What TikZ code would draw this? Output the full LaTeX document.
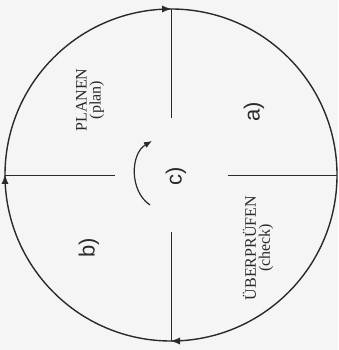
\documentclass[tikz,border=0pt]{standalone}
\usepackage{fontspec}
\setmainfont{Liberation Serif}
\newfontfamily\letterfont{Liberation Sans}
\usepackage{tikz}
\usetikzlibrary{positioning, calc, arrows.meta, decorations.markings}

\definecolor{ink}{HTML}{2A2A2A}

\tikzset{
    ring/.style={circle, draw=ink, line width=1.4pt, minimum size=332pt, inner sep=0pt, outer sep=0pt},
    spoke/.style={draw=ink, line width=0.7pt},
    phase/.style={rotate=90, align=center, text=ink, font=\fontsize{16}{14}\selectfont},
    letter/.style={rotate=90, text=ink, font=\letterfont\fontsize{22}{24}\selectfont},
    ringtip/.tip={Latex[length=9pt, width=7pt]}
}

\begin{document}
\begin{tikzpicture}[x=1pt, y=1pt]

        % Paper
        \useasboundingbox[fill=black!4] (-171,-175) rectangle (167,175);

        % The cycle
        \node[ring] (cycle) at (0,0) {};

        % Tips running clockwise round the cycle
        \path[postaction=decorate, decoration={markings,
                mark=at position 0.125 with {\arrow[ink]{ringtip}},
                mark=at position 0.625 with {\arrow[ink]{ringtip}},
                mark=at position 0.875 with {\arrow[ink]{ringtip}}}]
            (cycle.135) arc[start angle=135, end angle=-225, radius=166];

        % Spokes, stopping short of the hub
        \coordinate (hub-n) at (0,57);
        \coordinate (hub-s) at (0,-57);
        \coordinate (hub-w) at (-56,0);
        \coordinate (hub-e) at (57,0);
        \draw[spoke] (cycle.north) -- (hub-n);
        \draw[spoke] (cycle.south) -- (hub-s);
        \draw[spoke] (cycle.west) -- (hub-w);
        \draw[spoke] (cycle.east) -- (hub-e);

        % Turning arrow at the hub
        \coordinate (turn-from) at (-21,-30);
        \coordinate (turn-to) at (-19,34);
        \draw[ink, line width=1.2pt, -{Latex[length=8pt, width=6.5pt]}] (turn-from) to[bend left=58] (turn-to);

        % Phases
        \node[phase] (plan) at (-81,75) {PLANEN\\(plan)};
        \node[phase] (check) at (87,-73) {ÜBERPRÜFEN\\(check)};

        % Letters
        \node[letter] (a) at (83,63) {a)};
        \node[letter] (b) at (-82,-73) {b)};
        \node[letter] (c) at (5,-1) {c)};

\end{tikzpicture}
\end{document}
